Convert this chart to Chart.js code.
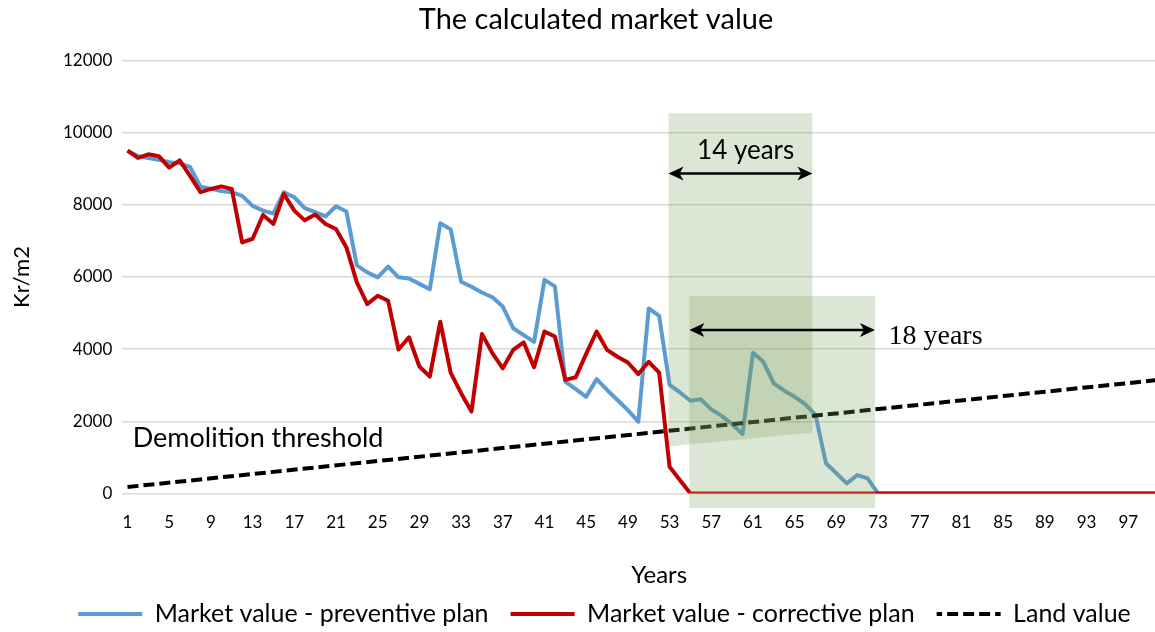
<!DOCTYPE html>
<html>
<head>
<meta charset="utf-8">
<title>The calculated market value</title>
<script src="https://cdn.jsdelivr.net/npm/chart.js@4.4.1/dist/chart.umd.min.js"></script>
<style>
  html, body { margin: 0; padding: 0; overflow: hidden; background: #fff; }
  #wrap { width: 1196px; height: 632px; }
</style>
</head>
<body>
<div id="wrap"><canvas id="marketChart" width="1196" height="632"></canvas></div>
<script>
// ---- data ----
const years = ['1','2','3','4','5','6','7','8','9','10','11','12','13','14','15','16','17','18','19','20',
  '21','22','23','24','25','26','27','28','29','30','31','32','33','34','35','36','37','38','39','40',
  '41','42','43','44','45','46','47','48','49','50','51','52','53','54','55','56','57','58','59','60',
  '61','62','63','64','65','66','67','68','69','70','71','72','73','74','75','76','77','78','79','80',
  '81','82','83','84','85','86','87','88','89','90','91','92','93','94','95','96','97','98','99','100',
  '101','102','103'];

const preventive = [
  9500, 9350, 9300, 9250, 9180, 9150, 9050, 8500, 8450, 8380,
  8350, 8250, 7970, 7840, 7760, 8350, 8210, 7910, 7800, 7680,
  7960, 7815, 6320, 6130, 5990, 6290, 5990, 5960, 5810, 5660,
  7490, 7320, 5870, 5730, 5570, 5440, 5180, 4580, 4390, 4200,
  5920, 5740, 3100, 2890, 2680, 3170, 2870, 2590, 2310, 1990,
  5130, 4920, 3010, 2800, 2570, 2610, 2330, 2150, 1920, 1650,
  3900, 3650, 3050, 2850, 2680, 2480, 2180, 840, 560, 280,
  510, 420, 0, 0, 0, 0, 0, 0, 0, 0,
  0, 0, 0, 0, 0, 0, 0, 0, 0, 0,
  0, 0, 0, 0, 0, 0, 0, 0, 0, 0
];

const corrective = [
  9500, 9300, 9400, 9350, 9030, 9230, 8800, 8350, 8440, 8510,
  8440, 6960, 7060, 7720, 7470, 8300, 7840, 7570, 7730, 7470,
  7330, 6820, 5850, 5250, 5480, 5340, 3990, 4330, 3520, 3240,
  4760, 3350, 2780, 2270, 4420, 3890, 3470, 3980, 4190, 3500,
  4490, 4350, 3150, 3220, 3870, 4490, 3980, 3790, 3630, 3310,
  3650, 3350, 740, 370, 0, 0, 0, 0, 0, 0,
  0, 0, 0, 0, 0, 0, 0, 0, 0, 0,
  0, 0, 0, 0, 0, 0, 0, 0, 0, 0,
  0, 0, 0, 0, 0, 0, 0, 0, 0, 0,
  0, 0, 0, 0, 0, 0, 0, 0, 0, 0
];

// land value is a straight line: first and last year only
const landYears = ['1', '100'];
const landValue = [180, 3150];

const yTicks = [0, 2000, 4000, 6000, 8000, 10000, 12000];

// ---- annotations (in years / Kr/m2) ----
const bands = [
  { from: 52.9, to: 66.7, top: 10540, bottomFrom: 1300, bottomTo: 1690 },
  { from: 54.9, to: 72.7, top: 5470, bottomFrom: -400, bottomTo: -400 }
];
const spans = [
  { from: 52.9, to: 66.7, value: 8870 },
  { from: 54.9, to: 72.7, value: 4530 }
];
const notes = [
  { text: '14 years', year: 60.3, value: 9490, font: '26px Lato', align: 'center' },
  { text: '18 years', year: 74.0, value: 4340, font: '28px "Liberation Serif"', align: 'left' },
  { text: 'Demolition threshold', year: 1.5, value: 1540, font: '27px Lato', align: 'left' }
];

const overlay = {
  id: 'overlay',
  afterDatasetsDraw(chart) {
    const { ctx, scales: { x, y } } = chart;
    const px = yr => x.getPixelForValue(yr - 1);
    ctx.save();

    // green shaded boxes
    ctx.fillStyle = 'rgba(118,160,90,0.26)';
    bands.forEach(b => {
      ctx.beginPath();
      ctx.moveTo(px(b.from), y.getPixelForValue(b.top));
      ctx.lineTo(px(b.to), y.getPixelForValue(b.top));
      ctx.lineTo(px(b.to), y.getPixelForValue(b.bottomTo));
      ctx.lineTo(px(b.from), y.getPixelForValue(b.bottomFrom));
      ctx.closePath();
      ctx.fill();
    });

    // double arrows
    ctx.strokeStyle = '#000';
    ctx.fillStyle = '#000';
    ctx.lineWidth = 2.5;
    spans.forEach(s => {
      const x1 = px(s.from), x2 = px(s.to), yy = y.getPixelForValue(s.value);
      ctx.beginPath();
      ctx.moveTo(x1 + 8, yy);
      ctx.lineTo(x2 - 8, yy);
      ctx.stroke();
      ctx.beginPath();
      ctx.moveTo(x1, yy); ctx.lineTo(x1 + 15, yy - 7); ctx.lineTo(x1 + 11, yy); ctx.lineTo(x1 + 15, yy + 7);
      ctx.closePath(); ctx.fill();
      ctx.beginPath();
      ctx.moveTo(x2, yy); ctx.lineTo(x2 - 15, yy - 7); ctx.lineTo(x2 - 11, yy); ctx.lineTo(x2 - 15, yy + 7);
      ctx.closePath(); ctx.fill();
    });

    // texts
    ctx.textBaseline = 'middle';
    notes.forEach(n => {
      ctx.font = n.font;
      ctx.textAlign = n.align;
      ctx.fillText(n.text, px(n.year), y.getPixelForValue(n.value));
    });
    ctx.restore();
  }
};

// move title / legend to where the picture has them
const nudge = {
  id: 'nudge',
  afterLayout(chart) {
    const t = chart.titleBlock;
    if (t) { t.left -= 2; t.right -= 2; }
    const lg = chart.legend;
    if (lg) {
      lg.left += 6.5; lg.right += 6.5;
      lg.top -= 11.5; lg.bottom = chart.height;
    }
  }
};

Chart.defaults.font.family = 'Lato';
Chart.defaults.color = '#000';

new Chart(document.getElementById('marketChart'), {
  type: 'line',
  data: {
    labels: years,
    datasets: [
      {
        label: 'Market value - preventive plan',
        data: preventive,
        borderColor: '#5B9BD5',
        backgroundColor: '#5B9BD5',
        borderWidth: 4,
        borderJoinStyle: 'round',
        pointRadius: 0,
        order: 2
      },
      {
        label: 'Market value - corrective plan',
        data: corrective,
        borderColor: '#C00000',
        backgroundColor: '#C00000',
        borderWidth: 4,
        borderJoinStyle: 'round',
        pointRadius: 0,
        order: 1
      },
      {
        label: 'Land value',
        data: landYears.map((yr, i) => ({ x: yr, y: landValue[i] })),
        borderColor: '#000',
        backgroundColor: '#000',
        borderWidth: 4,
        borderDash: [11, 5],
        pointRadius: 0,
        order: 0
      }
    ]
  },
  options: {
    responsive: false,
    animation: false,
    devicePixelRatio: 1,
    layout: { padding: 0 },
    plugins: {
      title: {
        display: true,
        text: 'The calculated market value',
        font: { size: 29, weight: 'normal' },
        color: '#000',
        padding: { top: 2.6, bottom: 23.1 }
      },
      legend: {
        position: 'bottom',
        maxHeight: 41,
        labels: {
          font: { size: 25 },
          color: '#000',
          padding: 22,
          usePointStyle: true,
          pointStyleWidth: 64,
          generateLabels: chart => chart.data.datasets.map((ds, i) => ({
            text: ds.label,
            fillStyle: ds.borderColor,
            strokeStyle: ds.borderColor,
            fontColor: '#000',
            lineWidth: 4,
            lineCap: 'butt',
            lineDash: ds.borderDash || [],
            lineDashOffset: 5.5,
            pointStyle: 'line',
            hidden: false,
            datasetIndex: i
          }))
        }
      },
      tooltip: { enabled: false }
    },
    scales: {
      x: {
        type: 'category',
        offset: true,
        grid: {
          display: true,
          drawOnChartArea: false,
          drawTicks: true,
          tickLength: 14,
          tickColor: 'rgba(0,0,0,0)'
        },
        border: { display: false },
        ticks: {
          autoSkip: false,
          maxRotation: 0,
          padding: 5,
          font: { size: 17 },
          color: '#000',
          callback: (v, i) => (i % 4 === 0 ? years[i] : '')
        },
        title: {
          display: true,
          text: 'Years',
          font: { size: 24 },
          color: '#000',
          padding: { top: 0, bottom: 1.6 }
        },
        afterFit: s => { s.height = 97.5; }
      },
      y: {
        min: yTicks[0],
        max: yTicks[yTicks.length - 1],
        afterBuildTicks: s => { s.ticks = yTicks.map(v => ({ value: v })); },
        grid: { color: '#d9d9d9', lineWidth: 1.5, drawTicks: false },
        border: { display: false },
        ticks: { padding: 10, font: { size: 17 }, color: '#000', callback: v => String(v) },
        title: {
          display: true,
          text: 'Kr/m2',
          font: { size: 22 },
          color: '#000',
          padding: { top: 8.8, bottom: 0 }
        },
        afterFit: s => { s.width = 122.3; }
      }
    }
  },
  plugins: [overlay, nudge]
});
</script>
</body>
</html>
